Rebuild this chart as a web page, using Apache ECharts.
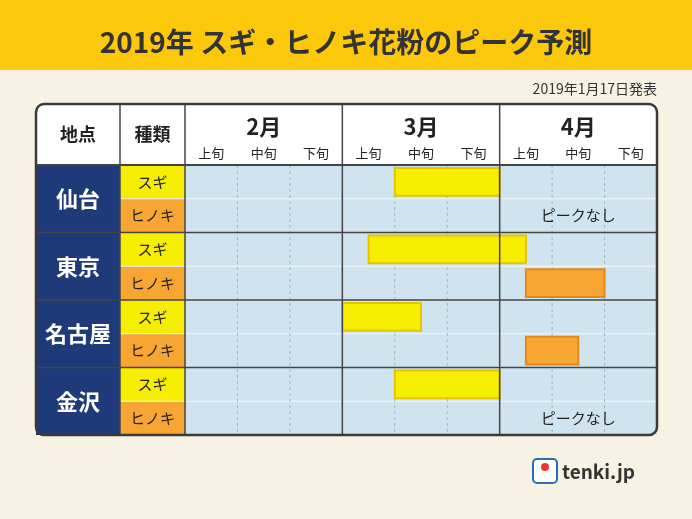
<!DOCTYPE html>
<html><head><meta charset="utf-8">
<script src="https://cdn.jsdelivr.net/npm/echarts@6/dist/echarts.min.js"></script>
<style>html,body{margin:0;padding:0;background:#f8f2e4}#c{width:692px;height:519px}</style>
</head><body><div id="c"></div>
<script>
const months=['2月','3月','4月'];
const decades=['上旬','中旬','下旬'];
const cities=['仙台','東京','名古屋','金沢'];
const kinds=['スギ','ヒノキ'];
// bars in half-decade units (0..18), rows 0..7
const barRow=[0,2,3,4,5,6];
const barStart=[8,7,13,6,13,8];
const barEnd=[12,13,16,9,15,12];
const noPeakRows=[1,7];
const noPeakText='ピークなし';

(function(){
const F='"Noto Sans CJK JP",sans-serif';
const rowCats=[];cities.forEach(c=>kinds.forEach(k=>rowCats.push(c+k)));
const chart=echarts.init(document.getElementById('c'));
chart.setOption({
  backgroundColor:'#f8f2e4',animation:false,
  grid:{left:185,right:35,top:165,bottom:84,show:true,backgroundColor:'#cfe4ee',borderWidth:0},
  xAxis:{type:'value',min:0,max:18,show:false},
  yAxis:{type:'category',data:rowCats,inverse:true,show:false},
  series:[{
    type:'custom',z:5,
    data:barRow.map((r,i)=>[barStart[i],barEnd[i],r]),
    renderItem:(p,api)=>{
      const r=api.value(2);const a=api.coord([api.value(0),r]),b=api.coord([api.value(1),r]);
      const h=api.size([0,1])[1]*0.82;const hin=(r%2===1);
      return {type:'rect',shape:{x:a[0],y:a[1]-h/2,width:b[0]-a[0],height:h},
        style:{fill:hin?'#f7a533':'#f6ee00',stroke:hin?'#e68a17':'#e6c500',lineWidth:2}};
    }
  },{
    type:'custom',z:5,
    data:noPeakRows.map(r=>[15,r]),
    renderItem:(p,api)=>{const c=api.coord([api.value(0),api.value(1)]);
      return {type:'text',x:c[0],y:c[1],style:{text:noPeakText,fill:'#222',font:'15px '+F,align:'center',verticalAlign:'middle'}};}
  }]
});
const X=x=>chart.convertToPixel({gridIndex:0},[x,0])[0];
const Yc=r=>chart.convertToPixel({gridIndex:0},[0,r])[1];
const rh=Yc(1)-Yc(0);
const T=104,L=36,R=X(18),hdr=Yc(0)-rh/2,bot=Yc(7)+rh/2,c1=120,c2=X(0);
const g=[];
g.push({type:'rect',shape:{x:0,y:0,width:692,height:70},style:{fill:'#fbc80c'}});
g.push({type:'text',x:346,y:42,style:{text:'2019年 スギ・ヒノキ花粉のピーク予測',font:'bold 28px '+F,fill:'#333',align:'center',verticalAlign:'middle'}});
g.push({type:'text',x:657,y:89,style:{text:'2019年1月17日発表',font:'14px '+F,fill:'#333',align:'right',verticalAlign:'middle'}});
g.push({type:'rect',shape:{x:L,y:T,width:R-L,height:hdr-T},style:{fill:'#fff'},z:1});
g.push({type:'text',x:(L+c1)/2,y:(T+hdr)/2,style:{text:'地点',font:'bold 18px '+F,fill:'#222',align:'center',verticalAlign:'middle'},z:10});
g.push({type:'text',x:(c1+c2)/2,y:(T+hdr)/2,style:{text:'種類',font:'bold 18px '+F,fill:'#222',align:'center',verticalAlign:'middle'},z:10});
months.forEach((m,i)=>{
  g.push({type:'text',x:X(i*6+3),y:127,style:{text:m,font:'bold 22px '+F,fill:'#222',align:'center',verticalAlign:'middle'},z:10});
  decades.forEach((d,j)=>g.push({type:'text',x:X(i*6+j*2+1),y:153,style:{text:d,font:'13px '+F,fill:'#222',align:'center',verticalAlign:'middle'},z:10}));
});
cities.forEach((c,i)=>{
  const y0=Yc(i*2)-rh/2;
  g.push({type:'rect',shape:{x:L,y:y0,width:c1-L,height:rh*2},style:{fill:'#1e3a78'},z:1});
  g.push({type:'text',x:(L+c1)/2,y:y0+rh,style:{text:c,font:'bold 22px '+F,fill:'#fff',align:'center',verticalAlign:'middle'},z:10});
  kinds.forEach((k,j)=>{
    g.push({type:'rect',shape:{x:c1,y:y0+rh*j,width:c2-c1,height:rh},style:{fill:j?'#f7a533':'#f6ee00'},z:1});
    g.push({type:'text',x:(c1+c2)/2,y:y0+rh*j+rh/2,style:{text:k,font:'15px '+F,fill:'#222',align:'center',verticalAlign:'middle'},z:10});
  });
  if(i>0)g.push({type:'line',shape:{x1:L,y1:y0,x2:R,y2:y0},style:{stroke:'#444',lineWidth:1.5},z:20});
  g.push({type:'line',shape:{x1:c1,y1:y0+rh,x2:R,y2:y0+rh},style:{stroke:'#f4f8fa',lineWidth:1},z:2});
});
for(let k=2;k<18;k+=2){if(k%6)g.push({type:'line',shape:{x1:X(k),y1:hdr,x2:X(k),y2:bot},style:{stroke:'#9bb',lineWidth:1,lineDash:[3,3]},z:2});}
[c1,c2,X(6),X(12)].forEach(x=>g.push({type:'line',shape:{x1:x,y1:T,x2:x,y2:bot},style:{stroke:'#444',lineWidth:1.5},z:20}));
g.push({type:'line',shape:{x1:L,y1:hdr,x2:R,y2:hdr},style:{stroke:'#444',lineWidth:2},z:20});
g.push({type:'rect',shape:{x:L,y:T,width:R-L,height:bot-T,r:8},style:{fill:null,stroke:'#3a3a3a',lineWidth:2.5},z:30});
g.push({type:'rect',shape:{x:533,y:459,width:24,height:24,r:4},style:{fill:'#fff',stroke:'#2a6fb5',lineWidth:2}});
g.push({type:'circle',shape:{cx:545,cy:467,r:4},style:{fill:'#e33'}});
g.push({type:'text',x:562,y:472,style:{text:'tenki.jp',font:'bold 19px '+F,fill:'#333',verticalAlign:'middle'}});
chart.setOption({graphic:g});
})();
</script></body></html>
